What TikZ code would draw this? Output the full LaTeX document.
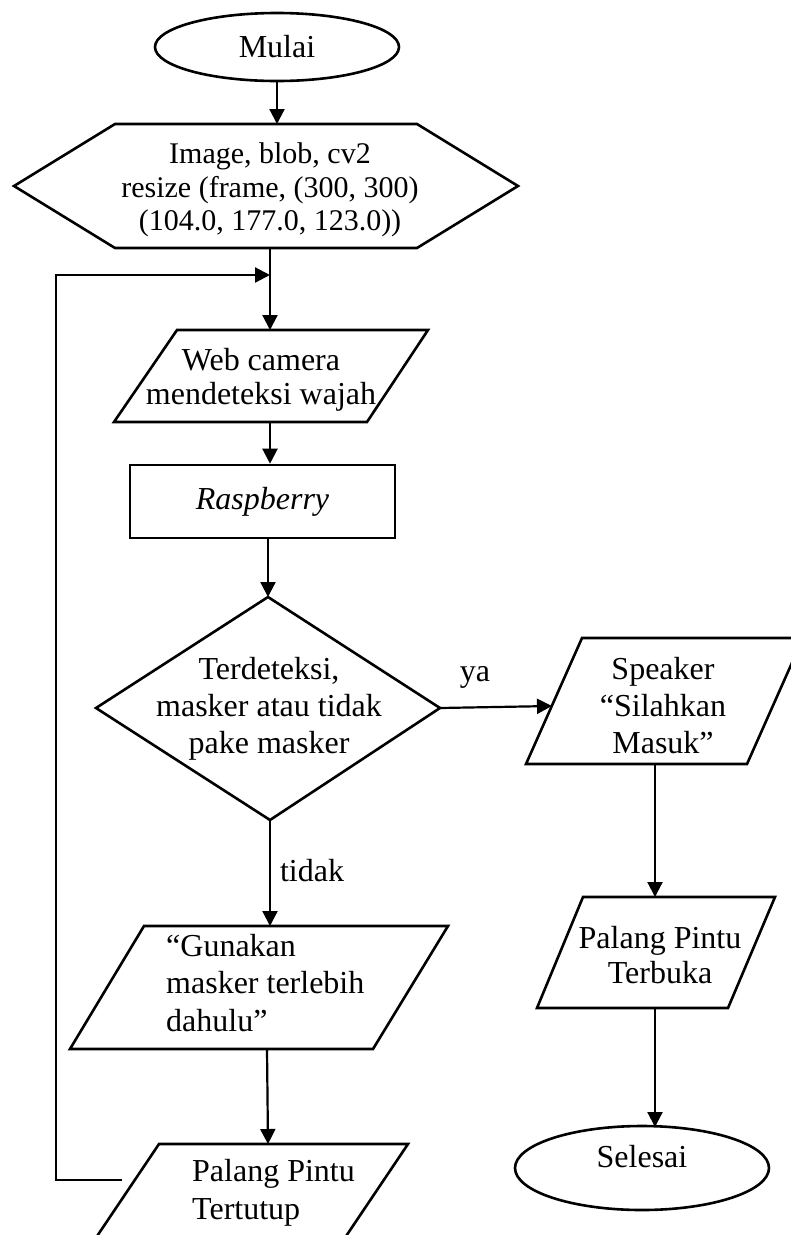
\documentclass[tikz,border=0pt]{standalone}
\usepackage{fontspec}
\setmainfont{Liberation Serif}
\usetikzlibrary{arrows.meta,shapes.geometric}
\begin{document}
\begin{tikzpicture}[x=1pt,y=-1pt,
  shp/.style={draw,line width=2.6pt,line join=miter},
  con/.style={line width=2.2pt,-{Triangle[length=15pt,width=15pt]}},
  txt/.style={font=\fontsize{32}{37}\selectfont,align=center,inner sep=0pt},
  lbl/.style={font=\fontsize{32}{37}\selectfont,inner sep=0pt}]
\useasboundingbox (0,0) rectangle (791,1235);
\clip (0,0) rectangle (791,1235);

% --- shapes ---
\node[shp,ellipse,minimum width=244pt,minimum height=68pt,inner sep=0pt,txt] (mulai) at (277,47) {Mulai};

\draw[shp] (115,124) -- (417,124) -- (518,186) -- (417,248) -- (115,248) -- (14,186) -- cycle;
\coordinate (hexT) at (277,124);
\coordinate (hexB) at (270,248);
\node[txt,font=\fontsize{30}{33.5}\selectfont] (hex) at (270,190) {Image, blob, cv2\\resize (frame, (300, 300)\\(104.0, 177.0, 123.0))};

\draw[shp] (177,330) -- (428,330) -- (367,422) -- (114,422) -- cycle;
\coordinate (camT) at (270,330);
\coordinate (camB) at (270,422);
\node[txt,font=\fontsize{32}{34}\selectfont] (cam) at (261,380) {Web camera\\mendeteksi wajah};

\node[shp,rectangle,minimum width=265pt,minimum height=73pt,inner sep=0pt,txt,font=\fontsize{32}{37}\selectfont\itshape] (rasp) at (262.5,501.5) {Raspberry};

\coordinate (diaN) at (268,597);
\coordinate (diaE) at (440,708);
\coordinate (diaS) at (270,820);
\coordinate (diaW) at (96,708);
\draw[shp] (diaN) -- (diaE) -- (diaS) -- (diaW) -- cycle;
\node[txt] (dia) at (269,709) {Terdeteksi,\\masker atau tidak\\pake masker};

\draw[shp] (582,638) -- (803,638) -- (747,764) -- (526,764) -- cycle;
\coordinate (spkL) at (552,706);
\coordinate (spkB) at (655,764);
\node[txt,font=\fontsize{32}{37}\selectfont] (spk) at (663,706) {Speaker\\“Silahkan\\Masuk”};

\draw[shp] (144,926) -- (448,926) -- (373,1049) -- (70,1049) -- cycle;
\coordinate (gunT) at (270,926);
\coordinate (gunB) at (267,1049);
\node[txt,align=left,anchor=west,font=\fontsize{32}{37.5}\selectfont] (gun) at (166,983) {“Gunakan\\masker terlebih\\dahulu”};

\draw[shp] (583,897) -- (775,897) -- (728,1008) -- (537,1008) -- cycle;
\coordinate (bukaT) at (655,897);
\coordinate (bukaB) at (655,1008);
\node[txt,font=\fontsize{32}{35}\selectfont] (buka) at (660,955) {Palang Pintu\\Terbuka};

\draw[shp] (159,1144) -- (408,1144) -- (330,1260) -- (81,1260) -- cycle;
\coordinate (tutT) at (268,1144);
\coordinate (tutL) at (122,1180);
\node[txt,align=left,anchor=west,font=\fontsize{32}{38}\selectfont] (tutup) at (192,1193) {Palang Pintu\\Tertutup};

\node[shp,ellipse,minimum width=254pt,minimum height=84pt,inner sep=0pt] (selesai) at (642,1168) {};
\node[txt] (selT) at (642,1157) {Selesai};
\coordinate (selT0) at (655,1127);

% --- loop ---
\coordinate (loopA) at (56,1180);
\coordinate (loopB) at (56,275);
\coordinate (loopC) at (270,275);

% --- connectors ---
\draw[con] (mulai.south) -- (hexT);
\draw[con] (hexB) -- (camT);
\draw[con] (tutL) -- (loopA) -- (loopB) -- (loopC);
\draw[con] (camB) -- (camB |- rasp.north);
\draw[con] (diaN |- rasp.south) -- (diaN);
\draw[con] (diaE) -- (spkL);
\node[lbl] (ya) at (475,677) {ya};
\draw[con] (diaS) -- (gunT);
\node[lbl] (tidak) at (312,871) {tidak};
\draw[con] (gunB) -- (tutT);
\draw[con] (spkB) -- (bukaT);
\draw[con] (bukaB) -- (selT0);
\end{tikzpicture}
\end{document}
